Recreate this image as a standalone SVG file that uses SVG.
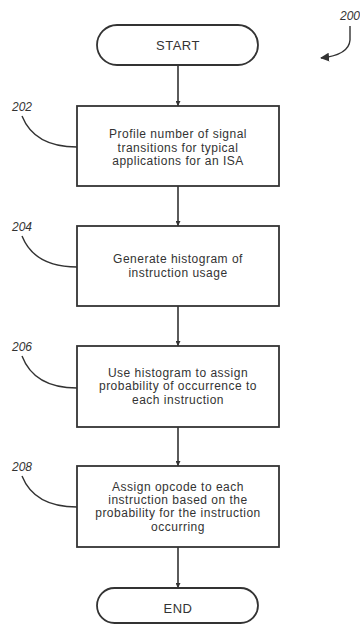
<svg xmlns="http://www.w3.org/2000/svg" width="360" height="626" viewBox="0 0 360 626">
<defs>
<style>
.box{fill:#fff;stroke:#333;stroke-width:1.8}
.t{font-family:"Liberation Sans",Arial,sans-serif;font-size:12px;letter-spacing:0.5px;fill:#333;text-anchor:middle}
.lbl{font-family:"Liberation Sans",Arial,sans-serif;font-size:12px;font-style:italic;fill:#333}
.c{fill:none;stroke:#333;stroke-width:1.6}
.lead{fill:none;stroke:#333;stroke-width:1.4}
</style>
<marker id="ah" viewBox="0 0 10 10" refX="10" refY="5" markerWidth="5" markerHeight="5" orient="auto" markerUnits="userSpaceOnUse">
<path d="M0,0 L10,5 L0,10 z" fill="#333"/>
</marker>
<marker id="ah2" viewBox="0 0 10 10" refX="9" refY="5" markerWidth="9" markerHeight="9" orient="auto" markerUnits="userSpaceOnUse">
<path d="M0,0 L10,5 L0,10 z" fill="#333"/>
</marker>
</defs>
<rect width="360" height="626" fill="#fff"/>
<g id="connectors">
<line class="c" x1="178" y1="65" x2="178" y2="106" marker-end="url(#ah)"/>
<line class="c" x1="178" y1="186" x2="178" y2="226" marker-end="url(#ah)"/>
<line class="c" x1="178" y1="306" x2="178" y2="346" marker-end="url(#ah)"/>
<line class="c" x1="178" y1="427" x2="178" y2="466" marker-end="url(#ah)"/>
<line class="c" x1="178" y1="547" x2="178" y2="588" marker-end="url(#ah)"/>
</g>
<g id="ref200">
<text class="lbl" x="340" y="20">200</text>
<path class="lead" d="M350,26 L350,40 Q349,55 321,58" marker-end="url(#ah2)"/>
</g>
<g id="start">
<rect class="box" x="97" y="25" width="161" height="40" rx="20" ry="20"/>
<text class="t" x="178" y="49.5" style="font-size:13px">START</text>
</g>
<g id="n202">
<rect class="box" x="77" y="106" width="202" height="80"/>
<text class="t" x="178" y="138.4">Profile number of signal</text>
<text class="t" x="178" y="151.8">transitions for typical</text>
<text class="t" x="178" y="165.2">applications for an ISA</text>
<text class="lbl" x="12" y="111">202</text>
<path class="lead" d="M22,116 C30,136 48,147 77,147"/>
</g>
<g id="n204">
<rect class="box" x="77" y="226" width="202" height="80"/>
<text class="t" x="178" y="263.1">Generate histogram of</text>
<text class="t" x="178" y="276.5">instruction usage</text>
<text class="lbl" x="12" y="231">204</text>
<path class="lead" d="M22,236 C30,256 48,267 77,267"/>
</g>
<g id="n206">
<rect class="box" x="77" y="346" width="202" height="81"/>
<text class="t" x="178" y="376.9">Use histogram to assign</text>
<text class="t" x="178" y="390.3">probability of occurrence to</text>
<text class="t" x="178" y="403.7">each instruction</text>
<text class="lbl" x="12" y="351">206</text>
<path class="lead" d="M22,356 C30,377 48,388 77,388"/>
</g>
<g id="n208">
<rect class="box" x="77" y="466" width="202" height="81"/>
<text class="t" x="178" y="490.5">Assign opcode to each</text>
<text class="t" x="178" y="503.9">instruction based on the</text>
<text class="t" x="178" y="517.3">probability for the instruction</text>
<text class="t" x="178" y="530.7">occurring</text>
<text class="lbl" x="12" y="471">208</text>
<path class="lead" d="M22,476 C30,496 48,507 77,507"/>
</g>
<g id="end">
<rect class="box" x="97" y="588" width="161" height="35" rx="17.5" ry="17.5"/>
<text class="t" x="178" y="612.5" style="font-size:13px">END</text>
</g>
</svg>
